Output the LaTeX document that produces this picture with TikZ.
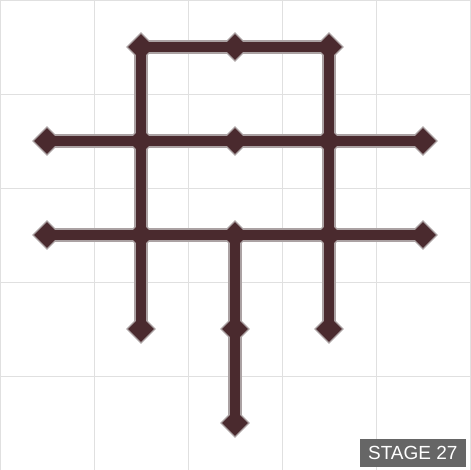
\documentclass[tikz,border=0pt]{standalone}
\usepackage{fontspec}
\setmainfont{Liberation Sans}
\usetikzlibrary{shapes.geometric}
\definecolor{rail}{HTML}{4A2A2E}
\definecolor{railedge}{HTML}{ABA2A3}
\definecolor{gridgray}{HTML}{E0E0E0}
\definecolor{tag}{HTML}{666666}

\begin{document}
\begin{tikzpicture}[x=94pt, y=94pt,
        hub/.style={diamond, inner sep=0pt, minimum size=#1},
        stagetag/.style={fill=tag, text=white, inner sep=0pt,
            minimum width=106pt, minimum height=28pt,
            font=\fontsize{19}{19}\selectfont}]
    \useasboundingbox (0,0) rectangle (5,5);
    \fill[white] (0,0) rectangle (5,5);
    \draw[gridgray, line width=0.9pt, step=94pt] (0,0) grid (5,5);
    % points, named n<column><row>, row 0 on top
    \foreach \c/\r in {1/0,2/0,3/0, 0/1,1/1,2/1,3/1,4/1,
            0/2,1/2,2/2,3/2,4/2, 1/3,2/3,3/3, 2/4}
        \coordinate (n\c\r) at (\c+0.5, 4.5-\r);
    % outline first, then the dark track over it
    \foreach \w/\s/\col in {13.5pt/30pt/railedge, 10pt/26pt/rail} {
        \foreach \a/\b in {n10/n20, n20/n30, n10/n11, n11/n12, n12/n13,
                n30/n31, n31/n32, n32/n33, n01/n11, n11/n21, n21/n31,
                n31/n41, n02/n12, n12/n22, n22/n32, n32/n42, n22/n23, n23/n24}
            \draw[\col, line width=\w] (\a) -- (\b);
        \foreach \n in {n10,n20,n30, n01,n11,n21,n31,n41,
                n02,n12,n22,n32,n42, n13,n23,n33, n24}
            \node[hub=\s, fill=\col] at (\n) {};
    }
    \node[stagetag, anchor=south east] (stage) at ([shift={(-4pt,3pt)}]5,0) {STAGE 27};
\end{tikzpicture}
\end{document}
